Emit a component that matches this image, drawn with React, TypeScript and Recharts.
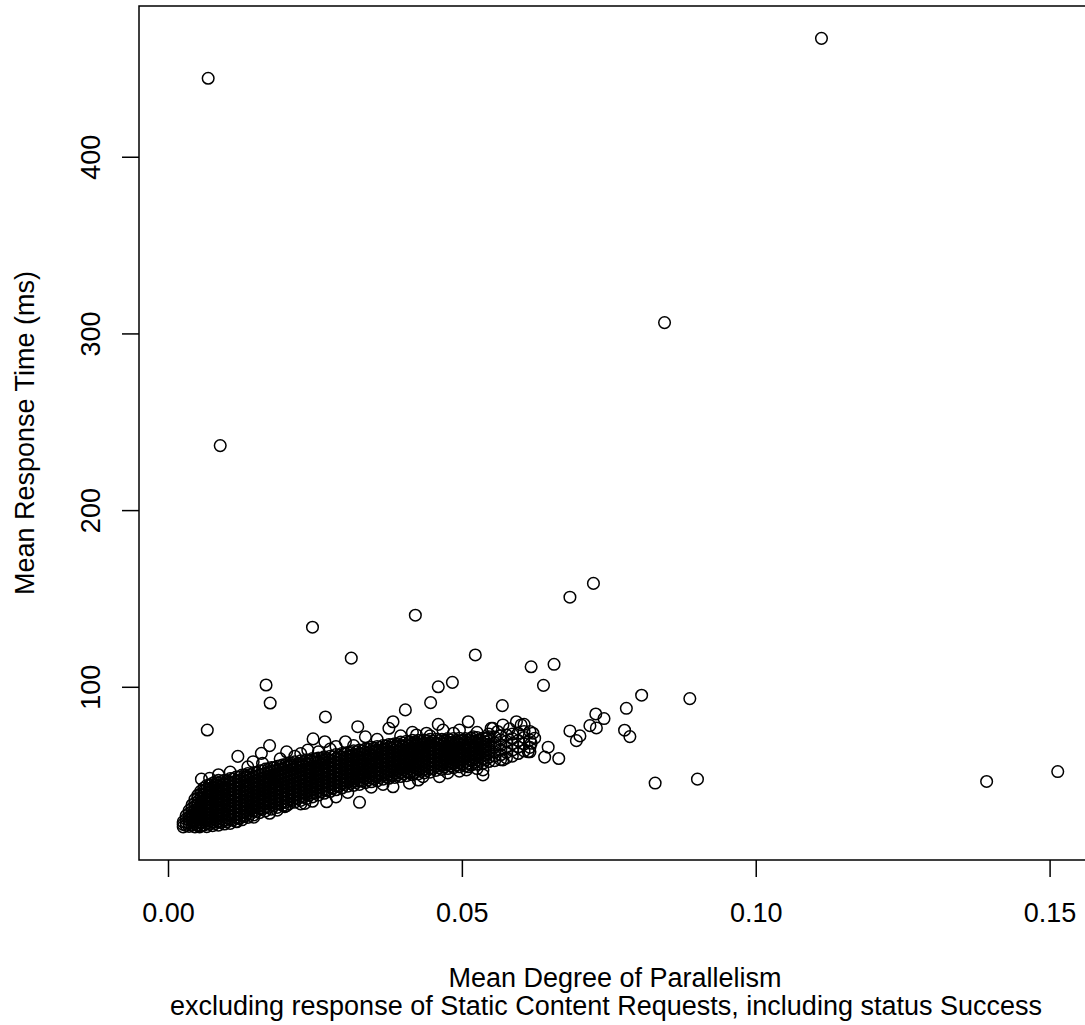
import { ScatterChart, Scatter, XAxis, YAxis, ReferenceArea } from "recharts";

const FONT = "Liberation Sans, Arial, Helvetica, sans-serif";
const FS = 27;

const xTicks = [0, 0.05, 0.1, 0.15];
const xTickLabels = ["0.00", "0.05", "0.10", "0.15"];
const yTicks = [100, 200, 300, 400];
const xDomain = [-0.00502, 0.1573];
const yDomain = [2.25, 485.6];

const xTitle = "Mean Degree of Parallelism";
const xSubtitle = "excluding response of Static Content Requests, including status Success";
const yTitle = "Mean Response Time (ms)";

// dense band, read column by column: [x, y1, y2, ...]
const bandColumns: number[][] = [
  [0.0025, 21, 22.4, 23.8],
  [0.0035, 21.3, 23, 24.9, 26.6, 28.5, 30.2],
  [0.0045, 21, 22.6, 24.4, 26.5, 28.3, 30.4, 32.6, 34.5, 36.6],
  [0.0055, 21.6, 23.4, 25.2, 27.3, 29.1, 31.2, 33.4, 35.2, 37.3, 39.4, 41.2],
  [0.0065, 21.1, 22.8, 24.7, 26.4, 28.6, 30.5, 32.3, 34.6, 36.5, 38.4, 40.6, 42.5, 44.4],
  [0.0075, 21.7, 23.6, 25.6, 27.4, 29.6, 31.4, 33.5, 35.6, 37.4, 39.5, 41.7, 43.6, 45.7],
  [0.0085, 22, 23.9, 25.8, 27.9, 30.1, 32, 34.1, 36.2, 38, 40.1, 42.2, 44, 46, 47.4],
  [0.0095, 22.6, 24.7, 26.8, 28.7, 30.9, 33, 35, 37.1, 39.2, 41, 43.1, 45.2, 47.3],
  [0.0105, 23, 25.1, 27.3, 29.4, 31.4, 33.6, 35.8, 37.7, 39.9, 42.1, 44, 46.2, 48.3],
  [0.0115, 24, 26.2, 28.1, 30.3, 32.5, 34.4, 36.6, 38.8, 40.7, 42.9, 45.1, 47, 49.2],
  [0.0125, 25, 27, 29.2, 31.4, 33.3, 35.5, 37.7, 39.6, 41.8, 44, 45.9, 48.1, 50.3],
  [0.0135, 26.4, 28.6, 30.5, 32.7, 34.9, 36.8, 39, 41.2, 43.1, 45.3, 47.5, 49.4, 51.2],
  [0.0145, 27.8, 30, 32.2, 34.2, 36.4, 38.7, 40.6, 42.9, 45.1, 47.1, 49.3, 51.6],
  [0.0155, 29, 31.3, 33.3, 35.5, 37.7, 39.7, 41.9, 44.2, 46.1, 48.4, 50.6, 52.7],
  [0.0165, 30, 32.1, 34.4, 36.5, 38.5, 40.8, 43, 45, 47.2, 49.5, 51.4, 53.7],
  [0.0175, 31, 33.3, 35.2, 37.5, 39.7, 41.7, 43.9, 46.2, 48.1, 50.4, 52.6, 54.6],
  [0.0185, 32, 34.1, 36.3, 38.2, 40.4, 42.6, 44.5, 46.7, 48.9, 50.8, 53, 55.3],
  [0.0195, 33, 35.2, 37.1, 39.3, 41.5, 43.4, 45.6, 47.8, 49.7, 51.9, 54.1, 56.2],
  [0.0205, 34, 36.1, 38.3, 40.2, 42.4, 44.6, 46.5, 48.7, 50.9, 52.8, 55, 57],
  [0.0215, 35, 37.2, 39.1, 41.3, 43.5, 45.4, 47.6, 49.8, 51.7, 53.9, 56.1, 57.8],
  [0.0225, 36, 38.1, 40.3, 42.2, 44.4, 46.6, 48.5, 50.7, 52.9, 54.8, 57, 58.4],
  [0.0235, 37, 39.3, 41.4, 43.5, 45.8, 48.1, 50.1, 52.4, 54.7, 56.7, 59],
  [0.0245, 38, 40.1, 42.4, 44.7, 46.7, 49, 51.3, 53.3, 55.6, 57.9, 59.6],
  [0.0255, 39, 41.2, 43.1, 45.3, 47.5, 49.4, 51.6, 53.8, 55.7, 57.9, 60],
  [0.0265, 40, 42.1, 44.3, 46.2, 48.4, 50.6, 52.5, 54.7, 56.9, 58.8, 60.6],
  [0.0275, 41, 43.3, 45.4, 47.5, 49.8, 52.1, 54.1, 56.4, 58.7, 61],
  [0.0285, 42, 44.1, 46.4, 48.7, 50.7, 53, 55.3, 57.3, 59.6, 61.9],
  [0.0295, 43, 45.3, 47.3, 49.6, 51.9, 53.9, 56.2, 58.5, 60.5, 62.5],
  [0.0305, 44, 46.2, 48.1, 50.3, 52.5, 54.4, 56.6, 58.8, 60.7, 63],
  [0.0315, 44.5, 46.8, 48.8, 51.1, 53.4, 55.4, 57.7, 60, 62, 64],
  [0.0325, 45, 47.1, 49.4, 51.7, 53.7, 56, 58.3, 60.3, 62.6, 64.5],
  [0.0335, 46, 48.3, 50.3, 52.6, 54.9, 56.9, 59.2, 61.5, 63.3, 65],
  [0.0345, 46.5, 48.6, 50.9, 53.2, 55.2, 57.5, 59.8, 61.8, 64, 66],
  [0.0355, 47, 49.3, 51.3, 53.6, 55.9, 57.9, 60.2, 62.5, 64.5, 66.5],
  [0.0365, 48, 50.2, 52.1, 54.3, 56.5, 58.4, 60.6, 62.8, 64.7, 67],
  [0.0375, 48.5, 50.6, 52.9, 55.2, 57.2, 59.5, 61.8, 63.8, 66.1, 67.6],
  [0.0385, 49, 51.3, 53.3, 55.6, 57.9, 59.9, 62.2, 64.5, 66.4, 68],
  [0.0395, 49.5, 51.6, 53.9, 56.2, 58.2, 60.5, 62.8, 64.8, 67.1, 69],
  [0.0405, 50, 52.3, 54.3, 56.6, 58.9, 60.9, 63.2, 65.5, 67.5, 69.5],
  [0.0415, 50.5, 52.6, 54.9, 57.2, 59.2, 61.5, 63.8, 65.8, 68.1, 70],
  [0.0425, 51, 53.2, 55.1, 57.3, 59.5, 61.4, 63.6, 65.8, 67.7, 70],
  [0.0435, 51.5, 53.6, 55.8, 57.7, 59.9, 62.1, 64, 66.2, 68.4, 70.2],
  [0.0445, 52, 54.2, 56.1, 58.3, 60.5, 62.4, 64.6, 66.8, 68.7, 70.5],
  [0.0455, 53, 55.3, 57.4, 59.5, 61.8, 64.1, 66.1, 68.4, 70.5],
  [0.0465, 53.5, 55.6, 57.9, 60.2, 62.2, 64.5, 66.8, 68.8, 70.6],
  [0.0475, 54, 56.2, 58.1, 60.3, 62.5, 64.4, 66.6, 68.8, 71],
  [0.0485, 54.5, 56.6, 58.8, 60.7, 62.9, 65.1, 67, 69.2, 71],
  [0.0495, 55, 57.2, 59.1, 61.3, 63.5, 65.4, 67.6, 69.6, 71.2],
  [0.0505, 55.5, 57.8, 60.2, 62.4, 64.6, 67.1, 69.1, 71],
  [0.0515, 56, 58.4, 60.5, 62.9, 65.3, 67.3, 69.4, 71.2],
  [0.0525, 56.5, 58.8, 61.2, 63.3, 65.7, 68.1, 70, 71.5],
  [0.0535, 57, 59.4, 61.5, 63.9, 66.3, 68.4, 71.3],
  [0.0545, 58, 60.3, 62.9, 65.1, 67.7, 69.9, 72],
  [0.0555, 58.5, 61.1, 63.4, 66.1, 68.4, 71.8],
  [0.0565, 59, 61.8, 64.7, 67.3, 70.3, 72.6],
  [0.0575, 60, 63.1, 66, 69.4, 73],
  [0.0585, 61, 64.4, 68.1, 71, 73.5],
  [0.0595, 62.5, 66.2, 69.8, 74],
  [0.0605, 64, 67.9, 71.6, 75],
  [0.0615, 66, 70.2, 75],
];

// second pass through the band, between the columns above
const bandFill: number[][] = [
  [0.003, 21.8, 23.5, 25.4, 27.3],
  [0.004, 22, 23.9, 25.8, 27.7, 29.6, 31.6, 33.4],
  [0.005, 21.8, 23.7, 25.6, 27.6, 29.5, 31.4, 33.3, 35.3, 37.2, 38.9],
  [0.006, 22, 24, 25.8, 27.7, 29.7, 31.6, 33.5, 35.4, 37.4, 39.3, 41.2, 43],
  [0.007, 22.5, 24.5, 26.6, 28.6, 30.6, 32.6, 34.6, 36.6, 38.6, 40.6, 42.6, 44.6],
  [0.008, 23, 25, 27, 29, 31, 33, 35, 37, 39, 41, 43, 45, 46.6],
  [0.009, 23.6, 25.7, 27.8, 29.9, 32, 34.1, 36.2, 38.3, 40.4, 42.5, 44.6, 46.6],
  [0.01, 24, 26.1, 28.2, 30.3, 32.4, 34.5, 36.6, 38.7, 40.8, 42.9, 45, 47.2],
  [0.011, 25, 27.1, 29.2, 31.3, 33.4, 35.5, 37.6, 39.7, 41.8, 43.9, 46, 48.2],
  [0.012, 26, 28.1, 30.2, 32.3, 34.4, 36.5, 38.6, 40.7, 42.8, 44.9, 47, 49.2],
  [0.013, 27, 29.2, 31.4, 33.6, 35.8, 38, 40.2, 42.4, 44.6, 46.8, 49, 50.4],
  [0.014, 28.5, 30.7, 32.9, 35.1, 37.3, 39.5, 41.7, 43.9, 46.1, 48.3, 50.5],
  [0.015, 29.8, 32, 34.2, 36.4, 38.6, 40.8, 43, 45.2, 47.4, 49.6, 51.7],
  [0.016, 31, 33.2, 35.4, 37.6, 39.8, 42, 44.2, 46.4, 48.6, 50.8, 52.7],
  [0.017, 32, 34.2, 36.4, 38.6, 40.8, 43, 45.2, 47.4, 49.6, 51.8, 53.7],
  [0.018, 33, 35.2, 37.4, 39.6, 41.8, 44, 46.2, 48.4, 50.6, 52.8, 54.6],
  [0.019, 34, 36.2, 38.4, 40.6, 42.8, 45, 47.2, 49.4, 51.6, 53.8, 55.5],
  [0.02, 35, 37.2, 39.4, 41.6, 43.8, 46, 48.2, 50.4, 52.6, 54.8, 56.3],
  [0.021, 36, 38.2, 40.4, 42.6, 44.8, 47, 49.2, 51.4, 53.6, 55.8, 57],
  [0.022, 37, 39.2, 41.4, 43.6, 45.8, 48, 50.2, 52.4, 54.6, 56.8],
  [0.023, 38, 40.2, 42.4, 44.6, 46.8, 49, 51.2, 53.4, 55.6, 57.8],
  [0.024, 39, 41.2, 43.4, 45.6, 47.8, 50, 52.2, 54.4, 56.6, 58.6],
  [0.025, 40, 42.2, 44.4, 46.6, 48.8, 51, 53.2, 55.4, 57.6, 59.2],
  [0.026, 41, 43.2, 45.4, 47.6, 49.8, 52, 54.2, 56.4, 58.6, 59.8],
  [0.027, 42, 44.2, 46.4, 48.6, 50.8, 53, 55.2, 57.4, 59.6],
  [0.028, 43, 45.2, 47.4, 49.6, 51.8, 54, 56.2, 58.4, 60.6],
  [0.029, 44, 46.2, 48.4, 50.6, 52.8, 55, 57.2, 59.4, 61.5],
  [0.03, 45, 47.2, 49.4, 51.6, 53.8, 56, 58.2, 60.4, 62.2],
  [0.031, 45.6, 47.8, 50, 52.2, 54.4, 56.6, 58.8, 61, 63],
  [0.032, 46.2, 48.4, 50.6, 52.8, 55, 57.2, 59.4, 61.6, 63.6],
  [0.033, 47, 49.2, 51.4, 53.6, 55.8, 58, 60.2, 62.4, 64.2],
  [0.034, 47.6, 49.8, 52, 54.2, 56.4, 58.6, 60.8, 63, 65],
  [0.035, 48.2, 50.4, 52.6, 54.8, 57, 59.2, 61.4, 63.6, 65.6],
  [0.036, 49, 51.2, 53.4, 55.6, 57.8, 60, 62.2, 64.4, 66],
  [0.037, 49.6, 51.8, 54, 56.2, 58.4, 60.6, 62.8, 65, 66.8],
  [0.038, 50.2, 52.4, 54.6, 56.8, 59, 61.2, 63.4, 65.6, 67.4],
  [0.039, 50.6, 52.8, 55, 57.2, 59.4, 61.6, 63.8, 66, 68],
  [0.04, 51, 53.2, 55.4, 57.6, 59.8, 62, 64.2, 66.4, 68.5],
  [0.041, 51.6, 53.8, 56, 58.2, 60.4, 62.6, 64.8, 67, 69],
  [0.042, 52, 54.2, 56.4, 58.6, 60.8, 63, 65.2, 67.4, 69.2],
  [0.043, 52.5, 54.7, 56.9, 59.1, 61.3, 63.5, 65.7, 67.9, 69.5],
  [0.044, 53, 55.2, 57.4, 59.6, 61.8, 64, 66.2, 68.4, 69.8],
  [0.045, 54, 56.2, 58.4, 60.6, 62.8, 65, 67.2, 69.4],
  [0.046, 54.5, 56.7, 58.9, 61.1, 63.3, 65.5, 67.7, 69.8],
  [0.047, 55, 57.2, 59.4, 61.6, 63.8, 66, 68.2, 70],
  [0.048, 55.5, 57.7, 59.9, 62.1, 64.3, 66.5, 68.7, 70.2],
  [0.049, 56, 58.2, 60.4, 62.6, 64.8, 67, 69.2],
  [0.05, 56.6, 58.8, 61, 63.2, 65.4, 67.6, 69.8],
  [0.051, 57, 59.3, 61.6, 63.9, 66.2, 68.5, 70.4],
  [0.052, 57.6, 60, 62.4, 64.8, 67.2, 69.6],
  [0.053, 58.2, 60.6, 63, 65.4, 67.8, 70.2],
  [0.054, 59, 61.5, 64, 66.5, 69, 71],
];

// loose circles around the band
const fringe: [number, number][] = [
  [0.0053, 21], [0.0056, 48], [0.007, 48.5], [0.0085, 50.5], [0.0105, 52], [0.0116, 23.9],
  [0.0118, 60.9], [0.0121, 25.8], [0.0135, 55], [0.0144, 57.9], [0.0145, 26.5], [0.0158, 62.6],
  [0.016, 57], [0.0172, 67], [0.0172, 28.7], [0.0185, 30.5], [0.019, 59.5], [0.0198, 32.4],
  [0.0201, 33], [0.0201, 63.5], [0.0215, 61], [0.0225, 62.5], [0.0225, 34], [0.0232, 34.3],
  [0.0237, 64.5], [0.0245, 35.5], [0.0246, 70.8], [0.0255, 63.5], [0.0266, 69.2], [0.0269, 35.2],
  [0.0275, 65], [0.0285, 66.5], [0.0285, 38], [0.0301, 69.2], [0.0305, 40.5], [0.0315, 67],
  [0.0322, 77.7], [0.0325, 34.9], [0.0335, 72], [0.0345, 43.5], [0.0355, 70.5], [0.0365, 45],
  [0.0375, 76.8], [0.0382, 80.5], [0.0382, 43.7], [0.0395, 72.5], [0.0403, 87.2], [0.041, 45.7],
  [0.0415, 74.5], [0.0422, 73], [0.0425, 47.5], [0.0433, 49.4], [0.0439, 74], [0.0445, 72.5],
  [0.0446, 91.3], [0.0459, 79], [0.0461, 49.4], [0.0467, 75.8], [0.0475, 51.5], [0.0485, 74],
  [0.0495, 75.8], [0.0495, 52.5], [0.0507, 53.2], [0.051, 80.5], [0.051, 55], [0.0518, 72],
  [0.0525, 74.5], [0.0525, 54], [0.0535, 53.2], [0.0535, 50.4], [0.0545, 73.5], [0.0549, 76.8],
  [0.0552, 76.8], [0.056, 75], [0.0569, 78.7], [0.0569, 58.9], [0.058, 76.5], [0.0592, 80.5],
  [0.06, 78.7], [0.0605, 79], [0.0612, 63.5], [0.0615, 63.5], [0.0617, 68.3], [0.062, 74],
  [0.0623, 71.2],
];

// isolated circles
const outliers: [number, number][] = [
  [0.00675, 444.7], [0.1111, 467.3], [0.0088, 236.8], [0.0844, 306.4], [0.0723, 158.8],
  [0.0683, 151], [0.042, 140.8], [0.0245, 134], [0.0311, 116.5], [0.0522, 118.3],
  [0.0617, 111.6], [0.0656, 113], [0.0638, 101.1], [0.0483, 102.8], [0.0459, 100.3],
  [0.0166, 101.3], [0.0173, 91.1], [0.0066, 75.8], [0.0267, 83.2], [0.0568, 89.6],
  [0.0805, 95.5], [0.0887, 93.6], [0.0779, 88.1], [0.0727, 84.9], [0.0741, 82.3],
  [0.0717, 78.3], [0.0728, 77], [0.0776, 75.7], [0.0785, 72.1], [0.0683, 75.3],
  [0.07, 72.5], [0.0694, 69.8], [0.0646, 66.1], [0.064, 60.5], [0.0664, 59.7],
  [0.0828, 45.8], [0.09, 48], [0.1392, 46.7], [0.1513, 52.3],
];

const points = [
  ...bandColumns.flatMap(([x, ...ys]) => ys.map((y) => ({ x, y }))),
  ...bandFill.flatMap(([x, ...ys]) => ys.map((y) => ({ x, y }))),
  ...fringe.map(([x, y]) => ({ x, y })),
  ...outliers.map(([x, y]) => ({ x, y })),
];

const Ring = (props: any) => (
  <circle cx={props.cx} cy={props.cy} r={5.8} fill="none" stroke="#000" strokeWidth={1.5} />
);

const XTick = (props: any) => {
  const { x, y, payload } = props;
  const i = xTicks.indexOf(payload.value);
  return (
    <text x={x} y={y} dy={44.5} textAnchor="middle" fontSize={FS} fontFamily={FONT} fill="#000">
      {xTickLabels[i] ?? String(payload.value)}
    </text>
  );
};

const YTick = (props: any) => {
  const { x, y, payload } = props;
  return (
    <g transform={`translate(${x - 22},${y}) rotate(-90)`}>
      <text x={0} y={0} textAnchor="middle" fontSize={FS} fontFamily={FONT} fill="#000">
        {payload.value}
      </text>
    </g>
  );
};

const XTitle = (props: any) => {
  const vb = props.viewBox ?? { x: 139, y: 860, width: 954, height: 165 };
  const cx = vb.x + vb.width / 2;
  return (
    <g>
      <text x={cx - 1} y={vb.y + 127} textAnchor="middle" fontSize={FS} fontFamily={FONT} fill="#000">
        {xTitle}
      </text>
      <text x={cx - 10} y={vb.y + 155} textAnchor="middle" fontSize={FS} fontFamily={FONT} fill="#000">
        {xSubtitle}
      </text>
    </g>
  );
};

const YTitle = (props: any) => {
  const vb = props.viewBox ?? { x: 0, y: 6, width: 139, height: 854 };
  const cy = vb.y + vb.height / 2;
  return (
    <g transform={`translate(34,${cy}) rotate(-90)`}>
      <text x={0} y={0} textAnchor="middle" fontSize={FS} fontFamily={FONT} fill="#000">
        {yTitle}
      </text>
    </g>
  );
};

export default function App() {
  return (
    <div
      style={{
        position: "absolute",
        left: 0,
        top: 0,
        width: 1085,
        height: 1025,
        overflow: "hidden",
        background: "#fff",
      }}
    >
      <ScatterChart width={1100} height={1025} margin={{ top: 6, right: 7, bottom: 0, left: 0 }}>
        <XAxis
          type="number"
          dataKey="x"
          domain={xDomain}
          ticks={xTicks}
          allowDataOverflow
          axisLine={false}
          tickLine={{ stroke: "#000", strokeWidth: 1.5 }}
          tickSize={17}
          tickMargin={0}
          tick={<XTick />}
          height={165}
          interval={0}
          label={<XTitle />}
        />
        <YAxis
          type="number"
          dataKey="y"
          domain={yDomain}
          ticks={yTicks}
          allowDataOverflow
          axisLine={false}
          tickLine={{ stroke: "#000", strokeWidth: 1.5 }}
          tickSize={17}
          tickMargin={0}
          tick={<YTick />}
          width={139}
          interval={0}
          label={<YTitle />}
        />
        <ReferenceArea
          x1={xDomain[0]}
          x2={xDomain[1]}
          y1={yDomain[0]}
          y2={yDomain[1]}
          fill="none"
          fillOpacity={0}
          stroke="#000"
          strokeWidth={1.5}
          ifOverflow="visible"
        />
        <Scatter data={points} shape={<Ring />} isAnimationActive={false} />
      </ScatterChart>
    </div>
  );
}
